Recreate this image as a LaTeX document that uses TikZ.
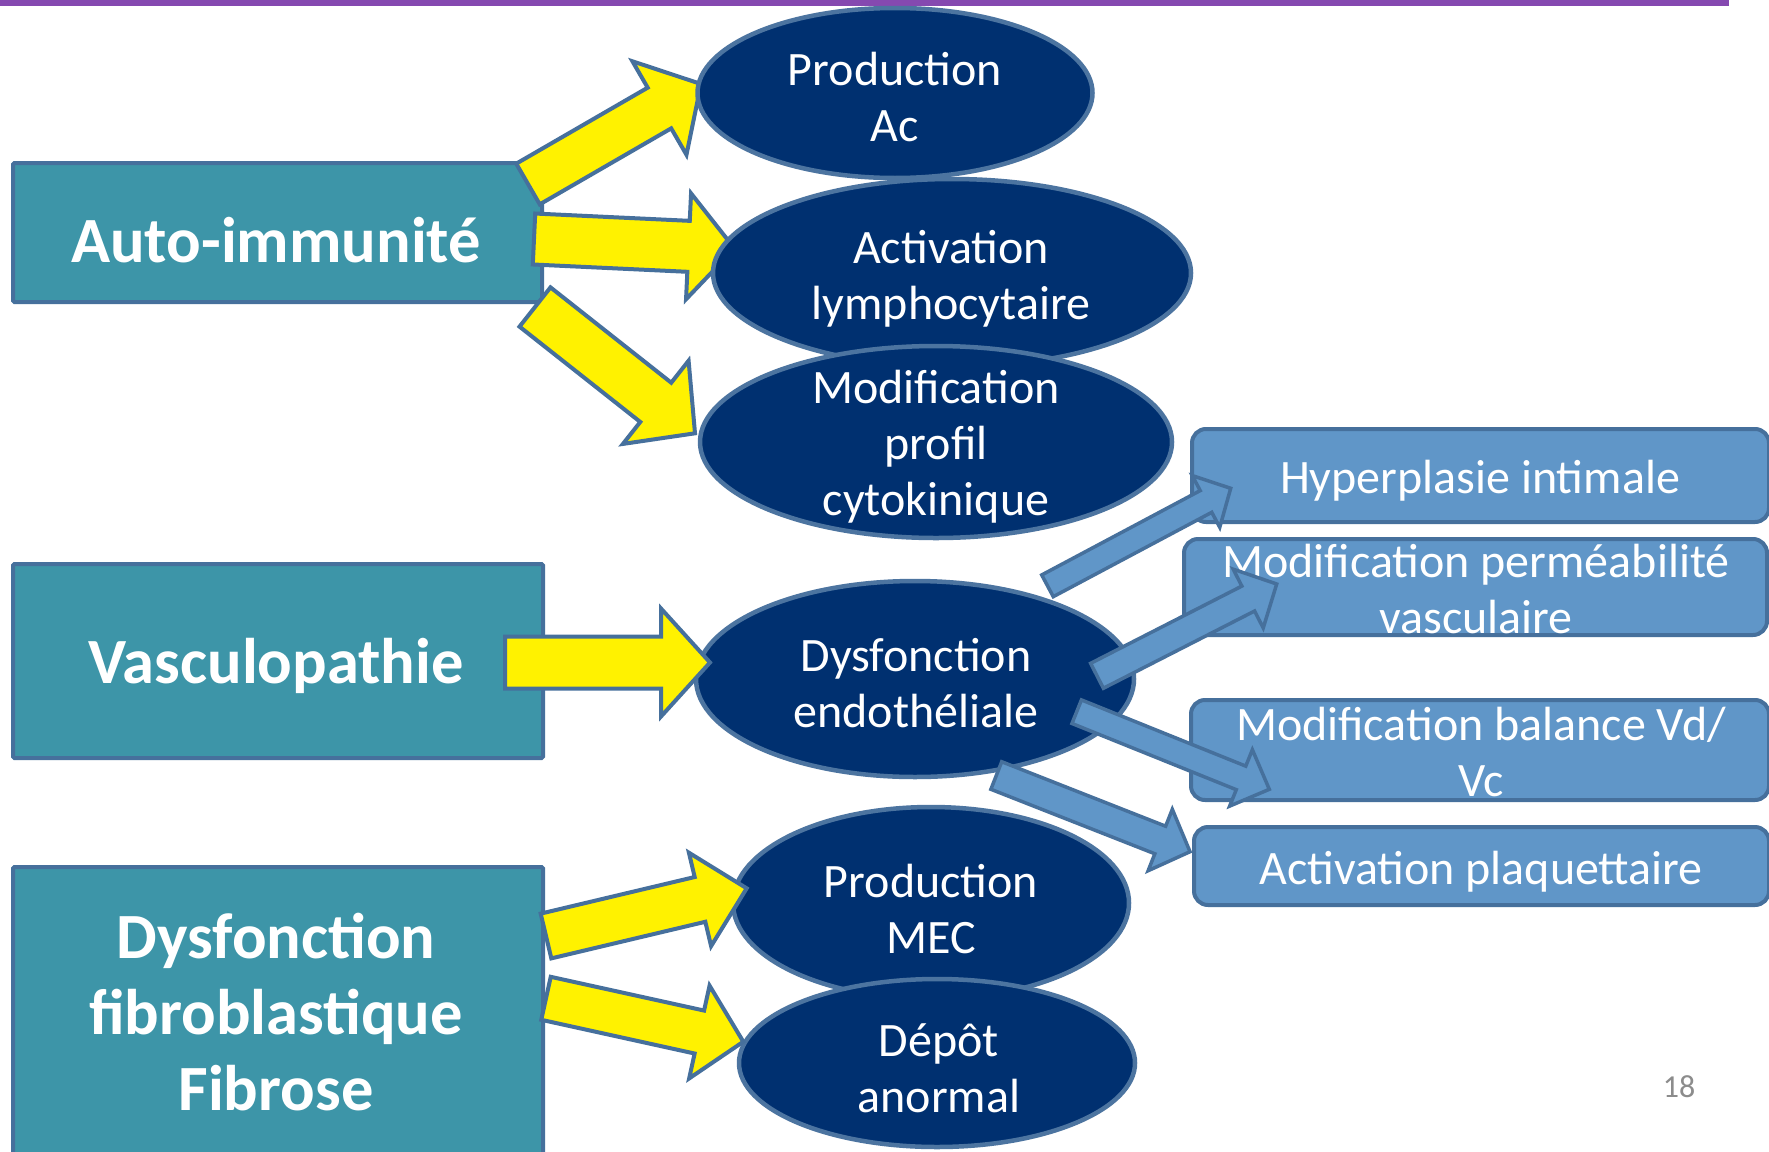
\documentclass[tikz,border=0pt]{standalone}
\usepackage{fontspec}
\setmainfont{Carlito}
\usetikzlibrary{calc,shapes.geometric}
\definecolor{purplebar}{HTML}{8549B0}
\definecolor{tealbox}{HTML}{3D95A8}
\definecolor{edgeblue}{HTML}{46709C}
\definecolor{navyfill}{HTML}{003070}
\definecolor{elledge}{HTML}{4C74A0}
\definecolor{lightbox}{HTML}{6096C8}
\definecolor{pagegray}{HTML}{8C8C8C}
\newcommand\blkarrow[6]{%
  \coordinate (bkH) at ($(#3)!#6!(#2)$);
  \draw[#1] ($(#2)!#4!90:(#3)$) -- ($(bkH)!#4!90:(#3)$) -- ($(bkH)!#5!90:(#3)$) -- (#3)
    -- ($(bkH)!#5!-90:(#3)$) -- ($(bkH)!#4!-90:(#3)$) -- ($(#2)!#4!-90:(#3)$) -- cycle;}
\tikzset{
  tealrect/.style={draw=edgeblue, fill=tealbox, line width=4, rectangle, inner sep=0, anchor=north west, rounded corners=1.5},
  navyell/.style={draw=elledge, fill=navyfill, line width=4.5, ellipse, inner sep=0},
  lightrect/.style={draw=edgeblue, fill=lightbox, line width=4, rectangle, rounded corners=14, inner sep=0, anchor=north west},
  yarrow/.style={draw=edgeblue, fill=yellow, line width=4, line join=miter},
  barrow/.style={draw=edgeblue, fill=lightbox, line width=3.5, line join=miter},
  whitetxt/.style={text=white, align=center, inner sep=0, font=\fontsize{48}{56}\selectfont},
  bigtxt/.style={text=white, align=center, inner sep=0, font=\bfseries\fontsize{64.5}{76}\selectfont},
}
\begin{document}
\begin{tikzpicture}[x=1pt,y=1pt]
\useasboundingbox (0,0) rectangle (1769,-1151);
\clip (0,0) rectangle (1769,-1151);
\fill[white] (0,0) rectangle (1769,-1151);
% top bar
\fill[purplebar] (0,0) rectangle (1729,-6);
% teal boxes
\node[tealrect, minimum width=529, minimum height=139] (auto) at (11,-161) {};
\node[tealrect, minimum width=530, minimum height=194] (vasc) at (11,-562) {};
\node[tealrect, minimum width=530, minimum height=305] (fibro) at (11,-865) {};
\node[bigtxt] (autoT) at (276,-240) {Auto-immunité};
\node[bigtxt] (vascT) at (276,-666) {Vasculopathie};
\node[bigtxt] (fibroT) at (276,-1012) {Dysfonction\\fibroblastique\\Fibrose};
% arrow end points
\coordinate (y1t) at (528,-184);   \coordinate (y1h) at (701,-84);
\coordinate (y2t) at (534,-239);   \coordinate (y2h) at (734.5,-248.5);
\coordinate (y3t) at (535,-307);   \coordinate (y3h) at (695,-433.3);
\coordinate (y4t) at (505,-662.5); \coordinate (y4h) at (710,-662.5);
\coordinate (y5t) at (546,-936);   \coordinate (y5h) at (746.7,-888.3);
\coordinate (y6t) at (546,-998.3); \coordinate (y6h) at (743.3,-1041.7);
\coordinate (b1t) at (1047.5,-585.8); \coordinate (b1h) at (1230.7,-488.3);
\coordinate (b2t) at (1097,-675.8);   \coordinate (b2h) at (1276.7,-584);
\coordinate (b3t) at (1076.7,-711.7); \coordinate (b3h) at (1269.3,-789.3);
\coordinate (b4t) at (996.3,-775.5);  \coordinate (b4h) at (1190,-851.7);
% yellow arrows behind ellipses
\blkarrow{yarrow}{y1t}{y1h}{23.5pt}{54pt}{48pt}
\blkarrow{yarrow}{y2t}{y2h}{25.5pt}{53pt}{46pt}
\blkarrow{yarrow}{y3t}{y3h}{25pt}{53pt}{50pt}
% ellipses
\node[navyell, minimum width=395, minimum height=170] (prodAc) at (895,-93) {};
\node[whitetxt] (prodAcT) at (895,-97) {Production\\Ac};
\node[navyell, minimum width=478, minimum height=188] (activ) at (952,-273) {};
\node[whitetxt] (activT) at (951,-279) {Activation\\lymphocytaire};
\node[navyell, minimum width=472, minimum height=192] (modif) at (936,-442) {};
\node[whitetxt] (modifT) at (936,-447) {Modification\\profil\\cytokinique};
\node[navyell, minimum width=438, minimum height=196] (dysf) at (915,-679) {};
\node[whitetxt] (dysfT) at (916,-683) {Dysfonction\\endothéliale};
\node[navyell, minimum width=396, minimum height=192] (mec) at (931,-903) {};
\node[whitetxt] (mecT) at (931,-909) {Production\\MEC};
\node[navyell, minimum width=396, minimum height=168] (depot) at (937,-1063) {};
\node[whitetxt] (depotT) at (939,-1068) {Dépôt\\anormal};
% yellow arrows over ellipses
\blkarrow{yarrow}{y4t}{y4h}{26pt}{54pt}{49pt}
\blkarrow{yarrow}{y5t}{y5h}{23pt}{48pt}{48pt}
\blkarrow{yarrow}{y6t}{y6h}{22pt}{47.5pt}{45pt}
% light boxes
\node[lightrect, minimum width=577, minimum height=93] (hyper) at (1190,-427) {};
\node[whitetxt] (hyperT) at (1480,-481) {Hyperplasie intimale};
\node[lightrect, minimum width=583, minimum height=96] (perm) at (1182,-537) {};
\node[whitetxt] (permT) at (1476,-589) {Modification perméabilité\\vasculaire};
\node[lightrect, minimum width=578, minimum height=100] (bal) at (1189,-698) {};
\node[whitetxt] (balT) at (1481,-752) {Modification balance Vd/\\Vc};
\node[lightrect, minimum width=575, minimum height=78] (plaq) at (1192,-825) {};
\node[whitetxt] (plaqT) at (1481,-872) {Activation plaquettaire};
% blue arrows
\blkarrow{barrow}{b1t}{b1h}{12.3pt}{29.3pt}{28pt}
\blkarrow{barrow}{b2t}{b2h}{14pt}{33pt}{32pt}
\blkarrow{barrow}{b3t}{b3h}{12.7pt}{30.4pt}{30.5pt}
\blkarrow{barrow}{b4t}{b4h}{14.8pt}{33pt}{32pt}
% page number
\node[text=pagegray, inner sep=0, font=\fontsize{32}{38}\selectfont] (pnum) at (1679,-1087) {18};
\end{tikzpicture}
\end{document}
